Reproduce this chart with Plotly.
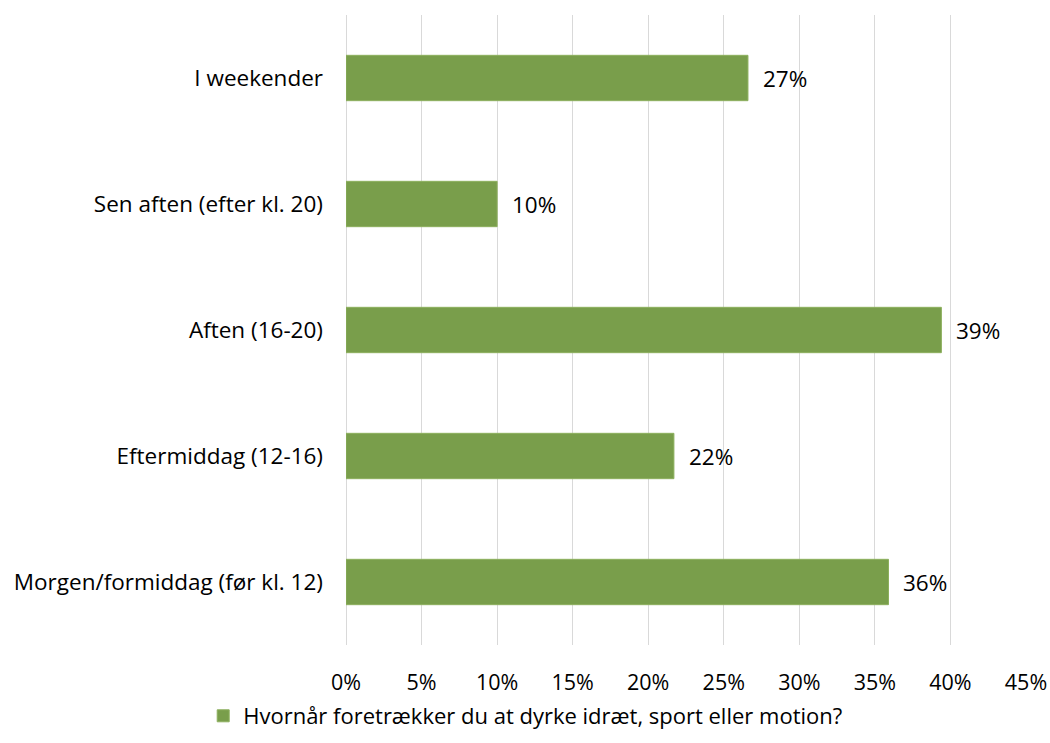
import plotly.graph_objects as go

categories = ["Morgen/formiddag (før kl. 12)", "Eftermiddag (12-16)", "Aften (16-20)",
              "Sen aften (efter kl. 20)", "I weekender"]
values = [0.359, 0.217, 0.394, 0.100, 0.266]
x_ticks = [0, 0.05, 0.10, 0.15, 0.20, 0.25, 0.30, 0.35, 0.40, 0.45]
x_tick_labels = ["0%", "5%", "10%", "15%", "20%", "25%", "30%", "35%", "40%", "45%"]
series_name = "Hvornår foretrækker du at dyrke idræt, sport eller motion?"

FONT = "Open Sans"
FS = 22.5
fig = go.Figure()
fig.add_trace(go.Bar(
    y=categories, x=values, orientation="h", name=series_name,
    marker=dict(color="#799E4B", line=dict(color="#8DB05E", width=1)),
    showlegend=True,
))
for c, v in zip(categories, values):
    fig.add_annotation(x=v, y=c, text=f"{round(v*100)}%", showarrow=False,
                       xanchor="left", xshift=13, font=dict(family=FONT, size=FS, color="#000000"))

fig.update_layout(
    width=1050, height=743,
    paper_bgcolor="white", plot_bgcolor="white",
    margin=dict(l=346, r=24, t=15, b=98, autoexpand=False),
    bargap=0.64,
    font=dict(family=FONT, size=FS, color="#000000"),
    xaxis=dict(range=[0, 0.45], tickvals=x_ticks, ticktext=x_tick_labels,
               showgrid=True, gridcolor="#D9D9D9", gridwidth=1.3,
               zeroline=True, zerolinecolor="#D9D9D9", zerolinewidth=1.3,
               showline=False, ticks="", ticklabelstandoff=22, automargin=False,
               tickfont=dict(family=FONT, size=21.5)),
    yaxis=dict(showgrid=False, zeroline=False, showline=False, ticks="", automargin=False,
               ticklabelstandoff=22, tickfont=dict(family=FONT, size=FS)),
    legend=dict(orientation="h", x=-0.21, xanchor="left", y=-0.1127, yanchor="middle",
                font=dict(family=FONT, size=22), itemwidth=30),
)
fig.write_html("out.html", config={"displayModeBar": False},
               post_script="document.body.style.margin='0';document.body.style.overflow='hidden';")
